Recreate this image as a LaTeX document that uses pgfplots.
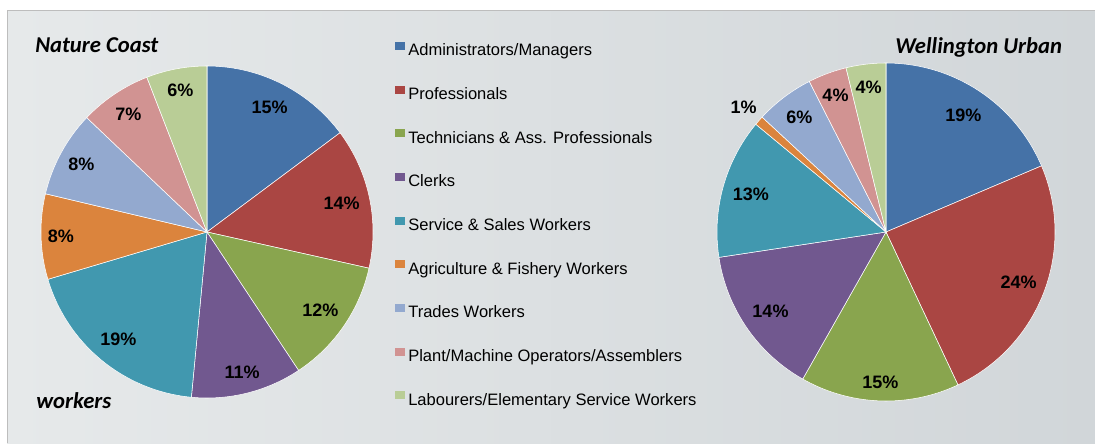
\documentclass[border=0pt]{standalone}
\usepackage{fontspec}
\usepackage{pgfplots}
\usepackage{pgfplotstable}
\pgfplotsset{compat=1.18}
\setmainfont{Liberation Sans}
\newfontfamily\calfont{Carlito}

\definecolor{pc0}{HTML}{4572A7}
\definecolor{pc1}{HTML}{AA4643}
\definecolor{pc2}{HTML}{89A54E}
\definecolor{pc3}{HTML}{71588F}
\definecolor{pc4}{HTML}{4198AF}
\definecolor{pc5}{HTML}{DB843D}
\definecolor{pc6}{HTML}{93A9CF}
\definecolor{pc7}{HTML}{D19392}
\definecolor{pc8}{HTML}{B9CD96}
\definecolor{bgl}{HTML}{E6E9EA}
\definecolor{bgr}{HTML}{D1D6D9}
\definecolor{bord}{HTML}{BDBDBD}

\newcommand\pctfont{\bfseries\fontsize{13.5}{16}\selectfont}
\newcommand\titlefont{\calfont\bfseries\itshape\fontsize{17}{20}\selectfont}

% share (%), printed label, label radius (fraction of r)
\pgfplotstableread{
share lab rf
14.8 15 0.84
13.7 14 0.83
12.2 12 0.83
10.8 11 0.87
18.9 19 0.84
8.3  8  0.88
8.4  8  0.86
7.0  7  0.85
5.9  6  0.87
}\coastdata

\pgfplotstableread{
share lab rf
18.6 19 0.83
24.4 24 0.84
15.2 15 0.89
14.4 14 0.83
13.4 13 0.83
0.9  1  1.12
5.6  6  0.85
3.7  4  0.86
3.8  4  0.86
}\urbandata

% slices clockwise from 12 o'clock
\newcommand\drawpie[1]{%
  \xdef\cumsum{0}%
  \pgfplotsinvokeforeach{0,...,8}{%
    \pgfplotstablegetelem{##1}{share}\of#1\xdef\psh{\pgfplotsretval}%
    \pgfplotstablegetelem{##1}{lab}\of#1\xdef\plab{\pgfplotsretval}%
    \pgfplotstablegetelem{##1}{rf}\of#1\xdef\prf{\pgfplotsretval}%
    \pgfmathparse{90-3.6*\cumsum}\xdef\pta{\pgfmathresult}%
    \pgfmathparse{\cumsum+\psh}\xdef\cumsum{\pgfmathresult}%
    \pgfmathparse{90-3.6*\cumsum}\xdef\ptb{\pgfmathresult}%
    \pgfmathparse{(\pta+\ptb)/2}\xdef\ptm{\pgfmathresult}%
    \pgfmathparse{\prf*cos(\ptm)}\xdef\plx{\pgfmathresult}%
    \pgfmathparse{\prf*sin(\ptm)}\xdef\ply{\pgfmathresult}%
    \edef\temp{\noexpand\addplot[fill=pc##1, draw=white, line width=0.4pt,
        domain=\ptb:\pta, samples=60] ({cos(x)},{sin(x)}) -- (0,0) -- cycle;
      \noexpand\node[font=\noexpand\pctfont, inner sep=0pt]
        at (axis cs:\plx,\ply) {\plab\noexpand\%};}%
    \temp
  }%
}

\pgfplotsset{pie/.style={
  anchor=center, scale only axis, hide axis, clip=false,
  xmin=-1, xmax=1, ymin=-1, ymax=1}}

\begin{document}
\begin{tikzpicture}
\useasboundingbox (0,0) rectangle (821.25pt,332.25pt);
\fill[white] (0,0) rectangle (821.25pt,332.25pt);
\shade[left color=bgl, right color=bgr] (5.25pt,0) rectangle (821.25pt,324pt);
\draw[bord, line width=0.75pt] (5.25pt,0) -- (5.25pt,324pt) -- (821.25pt,324pt);

\begin{axis}[pie, at={(155.25pt,158.25pt)}, width=249pt, height=249pt,
    legend style={at={(1.0663,1.073)}, anchor=north west, draw=none, fill=none,
      inner sep=0pt, row sep=19.3pt, font=\fontsize{12.4}{14}\selectfont,
      nodes={inner sep=0pt, text height=9pt, text depth=3pt},
      /tikz/every odd column/.append style={column sep=2.25pt}},
    legend cell align=left,
    legend image code/.code={\fill[#1, draw=none] (0pt,1.45pt) rectangle (7.5pt,7.45pt);}]
\drawpie{\coastdata}
\legend{Administrators/Managers, Professionals, Technicians \& Ass. Professionals,
  Clerks, Service \& Sales Workers, Agriculture \& Fishery Workers, Trades Workers,
  Plant/Machine Operators/Assemblers, Labourers/Elementary Service Workers}
\end{axis}

\begin{axis}[pie, at={(664.5pt,158.25pt)}, width=253.5pt, height=253.5pt]
\drawpie{\urbandata}
\end{axis}

\node[anchor=base west, inner sep=0pt, font=\titlefont] at (26.25pt,292.5pt) {Nature Coast};
\node[anchor=base west, inner sep=0pt, font=\titlefont] at (671.25pt,292.3pt) {Wellington Urban};
\node[anchor=base west, inner sep=0pt, font=\titlefont] at (27pt,26.25pt) {workers};
\end{tikzpicture}
\end{document}
